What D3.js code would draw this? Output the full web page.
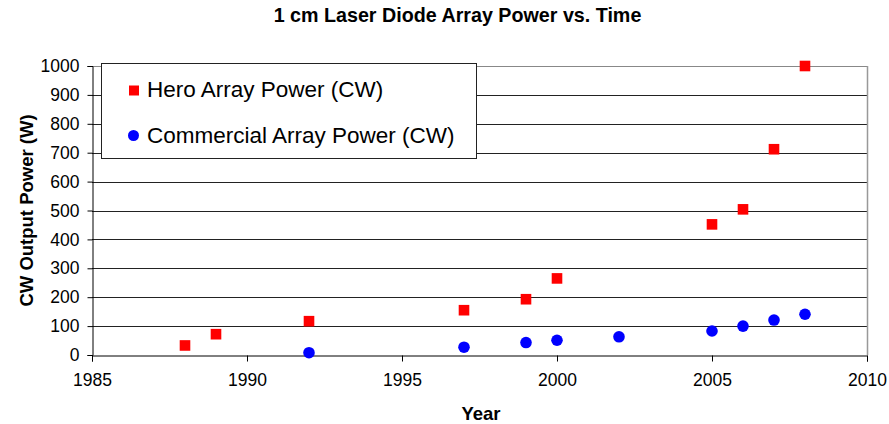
<!DOCTYPE html>
<html><head><meta charset="utf-8">
<script src="https://cdn.jsdelivr.net/npm/d3@7"></script>
<style>body{margin:0;background:#fff}svg{display:block;font-family:Arial,"Liberation Sans",sans-serif}</style>
</head><body>
<svg id="c" width="889" height="424"></svg>
<script>
const heroYears = [1988, 1989, 1992, 1997, 1999, 2000, 2005, 2006, 2007, 2008];
const heroPower = [33, 72, 117, 155, 193, 265, 452, 504, 712, 1000];
const commYears = [1992, 1997, 1999, 2000, 2002, 2005, 2006, 2007, 2008];
const commPower = [8, 27, 43, 51, 63, 83, 100, 121, 141];
const xTicks = [1985, 1990, 1995, 2000, 2005, 2010];
const yTicks = [0, 100, 200, 300, 400, 500, 600, 700, 800, 900, 1000];
const seriesNames = ["Hero Array Power (CW)", "Commercial Array Power (CW)"];
const title = "1 cm Laser Diode Array Power vs. Time";

const svg = d3.select("#c");
const L = 92, R = 867, T = 66, B = 355;
const x = d3.scaleLinear().domain([1985, 2010]).range([L, R]);
const y = d3.scaleLinear().domain([0, 1000]).range([B, T]);

// grid
svg.append("g").selectAll("line").data(yTicks.filter(d => d > 0)).join("line")
  .attr("x1", L).attr("x2", R).attr("y1", d => Math.round(y(d)) + 0.5).attr("y2", d => Math.round(y(d)) + 0.5)
  .attr("stroke", d => d === 1000 ? "#888" : "#222").attr("stroke-width", 1);
// right border
svg.append("line").attr("x1", R + 0.5).attr("x2", R + 0.5).attr("y1", T).attr("y2", B)
  .attr("stroke", "#999").attr("stroke-width", 1.5);

// axes
const yAxis = svg.append("g").attr("transform", `translate(${L + 0.5},0)`)
  .call(d3.axisLeft(y).tickValues(yTicks).tickSize(5).tickPadding(8).tickFormat(d3.format("d")));
const xAxis = svg.append("g").attr("transform", `translate(0,${B + 0.5})`)
  .call(d3.axisBottom(x).tickValues(xTicks).tickSize(6).tickPadding(12).tickFormat(d3.format("d")));
[yAxis, xAxis].forEach(g => {
  g.select(".domain").attr("stroke", "#000");
  g.selectAll(".tick line").attr("stroke", "#000");
  g.selectAll("text").attr("font-size", 17.5).attr("fill", "#000").attr("font-family", "Arial, 'Liberation Sans', sans-serif");
});

// legend
const lg = svg.append("g");
lg.append("rect").attr("x", 101.5).attr("y", 63.5).attr("width", 375).attr("height", 95)
  .attr("fill", "#fff").attr("stroke", "#222").attr("stroke-width", 1);
lg.append("rect").attr("x", 129).attr("y", 85.5).attr("width", 10).attr("height", 10).attr("fill", "#ff0000");
lg.append("text").attr("x", 147).attr("y", 97).attr("font-size", 22.5).text(seriesNames[0]);
lg.append("circle").attr("cx", 133.5).attr("cy", 135.5).attr("r", 5.5).attr("fill", "#0000ff");
lg.append("text").attr("x", 147).attr("y", 142.5).attr("font-size", 22.5).text(seriesNames[1]);

// points
const hero = heroYears.map((yr, i) => ({yr, v: heroPower[i]}));
const comm = commYears.map((yr, i) => ({yr, v: commPower[i]}));
svg.append("g").selectAll("rect").data(hero).join("rect")
  .attr("x", d => x(d.yr) - 5.3).attr("y", d => y(d.v) - 5.3).attr("width", 10.6).attr("height", 10.6)
  .attr("fill", "#ff0000");
svg.append("g").selectAll("circle").data(comm).join("circle")
  .attr("cx", d => x(d.yr)).attr("cy", d => y(d.v)).attr("r", 5.8).attr("fill", "#0000ff");

// titles
svg.append("text").attr("x", 457.5).attr("y", 21.5).attr("text-anchor", "middle")
  .attr("font-size", 19.7).attr("font-weight", "bold").text(title);
svg.append("text").attr("x", 481).attr("y", 420).attr("text-anchor", "middle")
  .attr("font-size", 18.5).attr("font-weight", "bold").text("Year");
svg.append("text").attr("transform", "translate(33,210.5) rotate(-90)").attr("text-anchor", "middle")
  .attr("font-size", 18.5).attr("font-weight", "bold").text("CW Output Power (W)");
</script>
</body></html>
